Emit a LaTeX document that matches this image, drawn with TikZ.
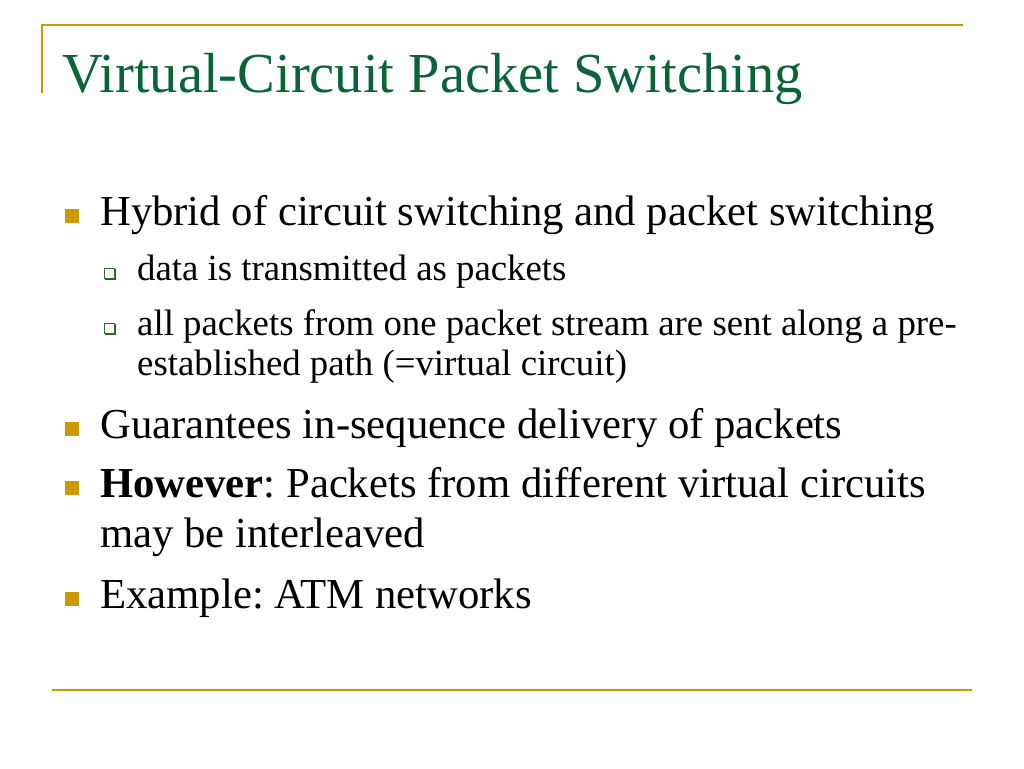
\documentclass[tikz,border=0pt]{standalone}
\usepackage{fontspec}
\setmainfont{Liberation Serif}
\usepackage{xcolor}
\usetikzlibrary{shadows}
\frenchspacing
\definecolor{slidegold}{RGB}{204,153,0}
\definecolor{slidegreen}{RGB}{10,100,55}
\definecolor{subgreen}{RGB}{40,120,40}
\tikzset{
    titletext/.style={anchor=base west, inner sep=0pt, text=slidegreen,
        font=\fontsize{56.5}{66}\selectfont},
    maintext/.style={anchor=base west, inner sep=0pt,
        font=\fontsize{42.7}{50}\selectfont},
    subtext/.style={anchor=base west, inner sep=0pt,
        font=\fontsize{36.8}{40}\selectfont},
    mainbullet/.style={fill=slidegold, minimum size=14pt, inner sep=0pt},
    subbullet/.style={draw=subgreen, fill=white, line width=1pt,
        minimum size=10pt, inner sep=0pt,
        copy shadow={shadow xshift=1.3pt, shadow yshift=-1.3pt,
            draw=subgreen!80!black, fill=subgreen!80!black}},
    rule/.style={draw=slidegold, line width=2pt}
}
\begin{document}
\begin{tikzpicture}[x=1pt,y=-1pt]
\useasboundingbox (0,0) rectangle (1024,768);

% Frame lines
\coordinate (frametop) at (42,25);
\coordinate (framecorner) at (42,93);
\draw[rule] (framecorner) -- (frametop) -- (963,25);
\draw[rule] (52,690) -- (972,690);

% Title
\node[titletext] (title) at (62,92) {Virtual-Circuit Packet Switching};

% First bullet with two sub bullets
\node[mainbullet] (b1) at (72,216) {};
\node[maintext] (hybrid) at (100,225) {Hybrid of circuit switching and packet switching};

\node[subbullet] (s1) at (109,273) {};
\node[subtext] (data) at (137,280) {data is transmitted as packets};

\node[subbullet] (s2) at (109,328) {};
\node[subtext] (allpk) at (137,335) {all packets from one packet stream are sent along a pre-};
\node[subtext] (estab) at (137,375) {established path (=virtual circuit)};

% Remaining bullets
\node[mainbullet] (b2) at (72,429) {};
\node[maintext] (guar) at (100,438) {Guarantees in-sequence delivery of packets};

\node[mainbullet] (b3) at (72,488) {};
\node[maintext] (however) at (100,497) {\textbf{However}: Packets from different virtual circuits};
\node[maintext] (inter) at (100,547) {may be interleaved};

\node[mainbullet] (b4) at (72,599) {};
\node[maintext] (atm) at (100,608) {Example: ATM networks};

\end{tikzpicture}
\end{document}
